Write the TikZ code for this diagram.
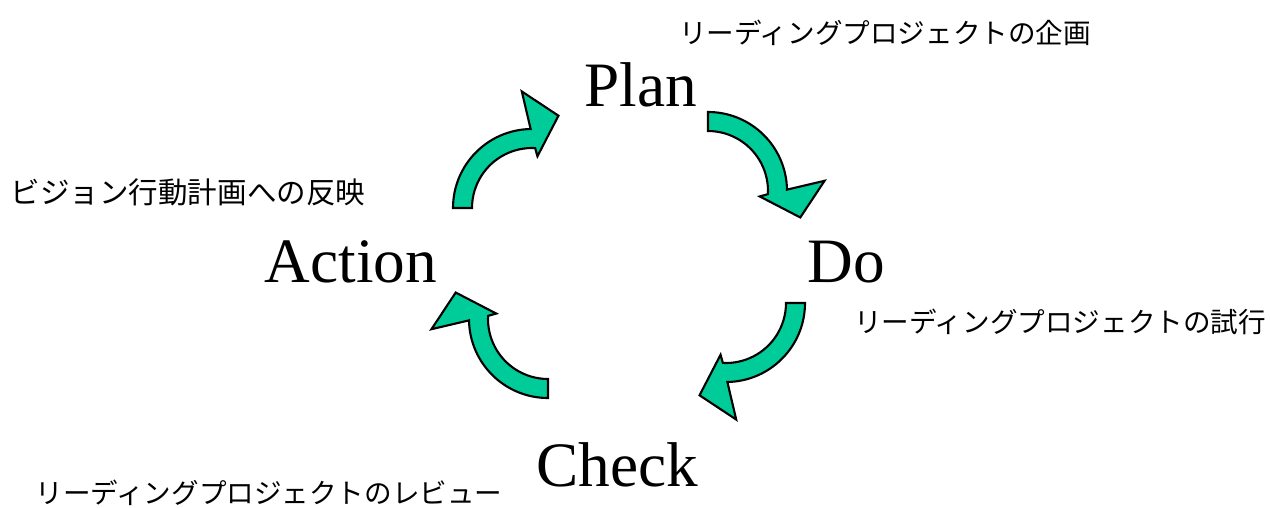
\documentclass[tikz,border=0pt]{standalone}
\usepackage{fontspec}
\setmainfont{Liberation Serif}
\newfontfamily\jpfont{Noto Sans CJK JP}
\usepackage{tikz}
\usetikzlibrary{calc}
\definecolor{cyclegreen}{RGB}{0,204,153}

\begin{document}
\begin{tikzpicture}[x=0.02cm, y=-0.02cm,
	phase/.style={font=\fontsize{36}{40}\selectfont, inner sep=0pt},
	note/.style={font=\jpfont\fontsize{15.7}{18}\selectfont, inner sep=0pt},
	bigarrow/.style={fill=cyclegreen, draw=black, line width=1.2pt, line join=miter}]
	\useasboundingbox (0,0) rectangle (1270,507);
	\node[phase] (plan) at (641,85) {Plan};
	\node[phase] (do) at (846,262) {Do};
	\node[phase] (check) at (617,465) {Check};
	\node[phase] (action) at (351,262) {Action};
	\node[note] (plannote) at (885,33) {リーディングプロジェクトの企画};
	\node[note] (donote) at (1060,322) {リーディングプロジェクトの試行};
	\node[note] (checknote) at (269,493) {リーディングプロジェクトのレビュー};
	\node[note, font=\jpfont\fontsize{16.8}{19}\selectfont] (actionnote) at (188,192) {ビジョン行動計画への反映};
	% arrow centres
	\coordinate (c1) at (532,208);
	\coordinate (c2) at (708,191);
	\coordinate (c3) at (726,303);
	\coordinate (c4) at (548,319);
	\draw[bigarrow] ($(c1)+(180:79)$) arc[start angle=180, end angle=269, radius=79] -- ($(c1)+(265:117)$) -- ($(c1)+(286:96)$) -- ($(c1)+(276:52)$) -- ($(c1)+(273:60)$) arc[start angle=273, end angle=180, radius=60] -- cycle;
	\draw[bigarrow] ($(c2)+(270:79)$) arc[start angle=270, end angle=359, radius=79] -- ($(c2)+(355:117)$) -- ($(c2)+(376:96)$) -- ($(c2)+(366:52)$) -- ($(c2)+(363:60)$) arc[start angle=363, end angle=270, radius=60] -- cycle;
	\draw[bigarrow] ($(c3)+(0:79)$) arc[start angle=0, end angle=89, radius=79] -- ($(c3)+(85:117)$) -- ($(c3)+(106:96)$) -- ($(c3)+(96:52)$) -- ($(c3)+(93:60)$) arc[start angle=93, end angle=0, radius=60] -- cycle;
	\draw[bigarrow] ($(c4)+(90:79)$) arc[start angle=90, end angle=179, radius=79] -- ($(c4)+(175:117)$) -- ($(c4)+(196:96)$) -- ($(c4)+(186:52)$) -- ($(c4)+(183:60)$) arc[start angle=183, end angle=90, radius=60] -- cycle;
\end{tikzpicture}
\end{document}
